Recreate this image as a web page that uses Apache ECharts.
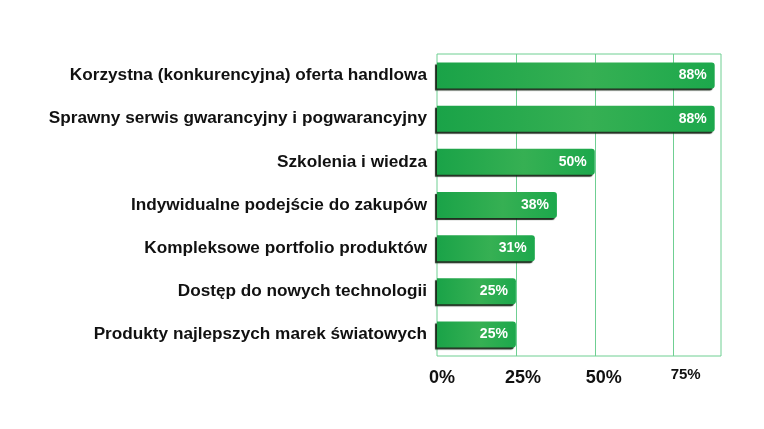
<!DOCTYPE html>
<html><head><meta charset="utf-8">
<script src="https://cdn.jsdelivr.net/npm/echarts@6/dist/echarts.min.js"></script>
<style>html,body{margin:0;padding:0;background:#fff}#c{width:764px;height:429px}</style>
</head><body><div id="c"></div>
<script>
const categories = [
  'Korzystna (konkurencyjna) oferta handlowa',
  'Sprawny serwis gwarancyjny i pogwarancyjny',
  'Szkolenia i wiedza',
  'Indywidualne podejście do zakupów',
  'Kompleksowe portfolio produktów',
  'Dostęp do nowych technologii',
  'Produkty najlepszych marek światowych'
];
const values = [88, 88, 50, 38, 31, 25, 25];
const tickValues = [0, 25, 50, 75];

const chart = echarts.init(document.getElementById('c'));
const green = new echarts.graphic.LinearGradient(0, 0, 1, 0, [
  {offset: 0, color: '#1aa348'},
  {offset: 0.55, color: '#36b053'},
  {offset: 1, color: '#1ca84c'}
]);
const gridGreen = '#6fcf92';
chart.setOption({
  animation: false,
  grid: {left: 437, right: 43, top: 54, bottom: 73, show: true, borderColor: gridGreen, borderWidth: 1},
  xAxis: {
    type: 'value', min: 0, max: 90, interval: 25,
    splitLine: {show: false},
    axisLine: {show: false}, axisTick: {show: false},
    axisLabel: {
      margin: 13,
      formatter: v => tickValues.includes(v) ? '{t' + v + '|' + v + '%}' : '',
      rich: {
        t0: {fontFamily: 'Liberation Sans', fontWeight: 'bold', fontSize: 18, color: '#111', padding: [0, 0, 0, 10]},
        t25: {fontFamily: 'Liberation Sans', fontWeight: 'bold', fontSize: 18, color: '#111', padding: [0, 0, 0, 14]},
        t50: {fontFamily: 'Liberation Sans', fontWeight: 'bold', fontSize: 18, color: '#111', padding: [0, 0, 0, 18]},
        t75: {fontFamily: 'Liberation Sans', fontWeight: 'bold', fontSize: 15, color: '#111', lineHeight: 12, padding: [0, 0, 0, 24]}
      }
    }
  },
  yAxis: {
    type: 'category', data: categories, inverse: true,
    axisLine: {show: false}, axisTick: {show: false}, splitLine: {show: false},
    axisLabel: {margin: 10, fontFamily: 'Liberation Sans', fontWeight: 'bold', fontSize: 17.2, color: '#111'}
  },
  series: [{
    type: 'bar', data: values, barWidth: 26, z: 3,
    itemStyle: {
      color: green, borderRadius: [0, 3, 3, 0],
      shadowColor: 'rgba(20,35,20,0.95)', shadowOffsetX: -2, shadowOffsetY: 2, shadowBlur: 1
    },
    label: {
      show: true, position: 'insideRight', distance: 8,
      formatter: p => p.value + '%',
      fontFamily: 'Liberation Sans', fontWeight: 'bold', fontSize: 14, color: '#fff'
    },
    markLine: {
      silent: true, symbol: 'none', z: 1,
      label: {show: false},
      lineStyle: {color: gridGreen, width: 1, type: 'solid'},
      emphasis: {disabled: true},
      data: tickValues.filter(v => v > 0).map(v => ({xAxis: v}))
    }
  }]
});
</script></body></html>
